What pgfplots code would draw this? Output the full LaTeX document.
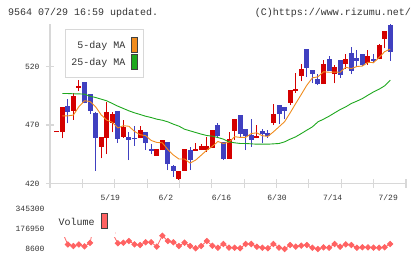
\documentclass[border=0pt]{standalone}
\usepackage{fontspec}
\setmainfont{Liberation Mono}
\usepackage{pgfplots}
\usepackage{pgfplotstable}
\pgfplotsset{compat=1.18}

\definecolor{upred}{HTML}{D40000}
\definecolor{dnblue}{HTML}{4040C0}
\definecolor{ma5}{HTML}{F08C1E}
\definecolor{ma25}{HTML}{1EA81E}
\definecolor{volred}{HTML}{FF6262}
\definecolor{axgray}{HTML}{D8D8D8}
\definecolor{txt}{HTML}{333333}
\definecolor{swbd}{HTML}{404040}

% daily candles: index, open, high, low, close
\pgfplotstableread{
i  o     h     l     c
0  464.0 464.8 464.0 464.8
1  464.4 485.0 458.5 485.0
3  482.1 497.4 474.7 494.6
4  501.5 508.3 498.9 503.2
8  451.3 459.9 441.4 459.9
9  459.0 489.8 445.1 480.7
10 472.1 481.0 463.6 479.8
12 459.9 474.7 459.3 468.4
15 458.5 469.0 458.5 465.6
18 443.6 449.3 443.6 449.3
19 448.5 457.6 448.5 457.0
22 423.7 430.8 423.4 430.8
23 430.8 449.9 430.8 449.3
25 447.9 455.0 447.9 449.3
26 448.5 453.6 448.5 451.9
27 448.5 459.9 447.1 451.9
28 450.5 465.6 450.5 465.6
31 441.1 463.6 441.1 457.9
32 464.7 475.0 457.0 475.0
36 459.0 469.9 458.5 460.5
39 471.9 487.8 469.9 479.8
42 488.9 500.3 487.0 500.3
43 498.9 514.6 497.5 500.6
44 512.0 522.0 507.2 518.3
48 504.9 525.4 504.9 522.0
50 513.4 521.1 505.5 519.4
52 522.0 530.5 518.3 526.2
56 523.1 534.0 521.7 528.8
58 526.0 539.6 526.0 538.2
59 543.4 550.2 535.4 550.2
}\upcandles

\pgfplotstableread{
i  o     h     l     c
2  486.1 492.1 471.3 481.3
5  506.9 506.9 488.4 489.2
6  496.4 496.4 479.8 482.1
7  480.4 481.0 430.8 459.0
11 482.1 482.1 454.8 458.2
13 459.9 464.2 439.9 457.6
14 459.3 469.0 452.2 458.5
16 463.9 463.9 448.5 454.2
17 449.6 453.6 445.1 447.9
20 455.3 455.3 431.4 436.5
21 434.8 436.2 425.7 430.8
24 448.5 450.8 431.4 439.9
29 469.9 472.1 459.9 460.7
30 455.3 455.3 440.0 440.8
33 478.4 478.4 459.9 462.7
34 466.4 466.4 448.5 460.5
35 461.3 475.0 451.3 457.6
37 464.7 466.2 454.8 462.5
38 463.0 465.6 459.0 460.5
40 487.0 487.0 470.7 479.3
41 485.0 485.0 475.0 482.1
45 534.8 534.8 511.1 518.9
46 517.4 517.4 505.5 513.4
47 509.2 514.0 504.0 504.9
49 526.8 528.8 516.2 516.2
51 525.4 525.4 510.3 513.1
53 531.7 536.8 513.4 516.3
54 527.4 534.0 519.7 524.8
55 530.5 530.5 520.3 521.7
57 526.2 530.5 522.6 524.8
60 555.3 558.0 524.8 532.5
}\downcandles

\begin{document}
\begin{tikzpicture}

\node[anchor=west, inner sep=0pt, text=txt, font=\fontsize{10bp}{12bp}\selectfont] at (8bp,246bp) {9564 07/29 16:59 updated.};
\node[anchor=east, inner sep=0pt, text=txt, font=\fontsize{10bp}{12bp}\selectfont] at (411bp,246bp) {(C)https://www.rizumu.net/};

% price panel
\begin{scope}[shift={(50bp,75.5bp)}]
\begin{axis}[
  at={(0pt,0pt)}, anchor=south west, scale only axis,
  width=356bp, height=159.1bp,
  xmin=-1.205, xmax=62.84, ymin=420, ymax=556,
  separate axis lines,
  axis x line*=bottom, axis y line*=left,
  axis line style={-, draw=axgray, line width=1.1bp},
  tick style={draw=axgray, line width=1.1bp},
  tick align=center, major tick length=8bp,
  xtick={-1.205,4.617,10.44,16.26,22.09,27.91,33.73,39.56,45.38,51.20,57.02,62.84},
  xticklabel=\empty,
  extra x ticks={10,20,30,40,50,60},
  extra x tick labels={5/19,6/2,6/16,6/30,7/14,7/29},
  extra x tick style={major tick length=0pt, tick style={draw=none},
    xticklabel style={xshift=-2bp, yshift=-8bp}},
  ytick={420,470,520},
  ticklabel style={font=\fontsize{8bp}{9bp}\selectfont, text=txt},
  yticklabel style={xshift=-3bp},
  /pgf/number format/assume math mode=true,
]
% wicks
\addplot[draw=none, mark=none, error bars/.cd, y dir=plus, y explicit, error mark=none,
  error bar style={draw=upred, line width=1bp}]
  table[x=i, y=l, y error expr=\thisrow{h}-\thisrow{l}] {\upcandles};
\addplot[draw=none, mark=none, error bars/.cd, y dir=plus, y explicit, error mark=none,
  error bar style={draw=dnblue, line width=1bp}]
  table[x=i, y=l, y error expr=\thisrow{h}-\thisrow{l}] {\downcandles};
% bodies
\addplot[draw=none, mark=none, error bars/.cd, y dir=plus, y explicit, error mark=none,
  error bar style={draw=upred, line width=5bp}]
  table[x=i, y=o, y error expr=\thisrow{c}-\thisrow{o}] {\upcandles};
\addplot[draw=none, mark=none, error bars/.cd, y dir=plus, y explicit, error mark=none,
  error bar style={draw=dnblue, line width=5bp}]
  table[x=i, y=c, y error expr=\thisrow{o}-\thisrow{c}] {\downcandles};
% 5-day moving average
\addplot[ma5, line width=0.9bp, mark=none] coordinates {
(1,477.8)(2,477.8)(3,478.5)(4,485.7)(5,490.7)(6,490.1)(7,485.6)(8,478.7)(9,474.2)(10,472.3)
(11,467.5)(12,469.4)(13,468.9)(14,464.5)(15,461.7)(16,460.9)(17,456.8)(18,455.1)(19,454.8)(20,449.0)
(21,444.3)(22,440.9)(23,440.9)(24,437.5)(25,440.0)(26,444.2)(27,448.5)(28,451.7)(29,455.9)(30,454.2)
(31,455.4)(32,460.0)(33,459.4)(34,459.4)(35,462.7)(36,463.3)(37,460.8)(38,460.3)(39,464.2)(40,468.5)
(41,472.8)(42,480.4)(43,488.4)(44,496.1)(45,504.0)(46,510.3)(47,511.2)(48,515.5)(49,515.1)(50,515.2)
(51,515.1)(52,519.4)(53,518.2)(54,520.0)(55,520.4)(56,523.6)(57,523.3)(58,527.7)(59,532.7)(60,534.9)
};
% 25-day moving average
\addplot[ma25, line width=0.9bp, mark=none] coordinates {
(1,496.9)(2,496.9)(3,496.7)(4,496.6)(5,496.4)(6,494.6)(7,493.5)(8,492.1)(9,490.7)(10,488.4)
(11,486.1)(12,484.1)(13,482.1)(14,480.4)(15,479.0)(16,477.5)(17,476.4)(18,475.0)(19,474.1)(20,472.7)
(21,470.7)(22,469.0)(23,466.4)(24,465.0)(25,463.6)(26,462.2)(27,461.0)(28,460.5)(29,459.3)(30,457.9)
(31,455.6)(32,454.8)(33,454.2)(34,454.2)(35,453.9)(36,453.6)(37,453.6)(38,453.6)(39,453.9)(40,454.2)
(41,455.6)(42,457.9)(43,459.9)(44,462.7)(45,465.6)(46,468.4)(47,472.7)(48,475.0)(49,477.5)(50,480.4)
(51,483.2)(52,485.5)(53,488.4)(54,490.4)(55,492.6)(56,495.5)(57,498.3)(58,500.6)(59,503.5)(60,508.3)
};
\end{axis}
\end{scope}

% legend of the price panel
\draw[axgray, line width=1bp, fill=white] (65bp,181.7bp) rectangle (143.3bp,229bp);
\node[anchor=east, inner sep=0pt, text=txt, font=\fontsize{10bp}{12bp}\selectfont] at (125.5bp,213bp) {5-day MA};
\node[anchor=east, inner sep=0pt, text=txt, font=\fontsize{10bp}{12bp}\selectfont] at (125.5bp,195.7bp) {25-day MA};
\draw[swbd, line width=0.8bp, fill=ma5] (131.7bp,206.7bp) rectangle (137.3bp,221.7bp);
\draw[swbd, line width=0.8bp, fill=ma25] (131.7bp,189.7bp) rectangle (137.3bp,204.3bp);

% volume panel
\begin{scope}[shift={(50bp,10bp)}]
\begin{axis}[
  at={(0pt,0pt)}, anchor=south west, scale only axis,
  width=356bp, height=39.7bp,
  xmin=-1.205, xmax=62.84, ymin=8600, ymax=345300,
  hide x axis,
  axis y line*=left,
  axis line style={draw=none},
  major tick length=0pt, tick style={draw=none},
  ytick={8600,176950,345300},
  scaled y ticks=false,
  yticklabel style={font=\fontsize{8bp}{9bp}\selectfont, text=txt, xshift=-2bp},
  /pgf/number format/.cd, fixed, 1000 sep={}, assume math mode=true,
]
\addplot[volred, line width=0.8bp, mark=square*, mark size=1.9bp,
  mark options={rotate=45, fill=volred, draw=volred}] coordinates {
(1,152800)(2,46800)(3,34000)(4,46800)(5,31500)(6,60300)(7,285000)(8,230000)(9,180000)(10,144300)
(11,56900)(12,62000)(13,76400)(14,48500)(15,42500)(16,65400)(17,65400)(18,28100)(19,121400)(20,76400)
(21,65400)(22,34000)(23,62000)(24,34000)(25,14500)(26,34000)(27,76400)(28,36600)(29,19600)(30,51000)
(31,19600)(32,19600)(33,14500)(34,51000)(35,51000)(36,28100)(37,19600)(38,14500)(39,51000)(40,19600)
(41,8600)(42,42500)(43,28100)(44,36600)(45,42500)(46,19600)(47,8600)(48,23000)(49,19600)(50,51000)
(51,28100)(52,48500)(53,42500)(54,19600)(55,23000)(56,23000)(57,19600)(58,19600)(59,23000)(60,51000)
};
\end{axis}
\end{scope}

% legend of the volume panel
\fill[white] (53bp,22bp) rectangle (115bp,54bp);
\node[anchor=west, inner sep=0pt, text=txt, font=\fontsize{10bp}{12bp}\selectfont] at (58.5bp,37.3bp) {Volume};
\draw[swbd, line width=0.8bp, fill=volred] (101.3bp,30.7bp) rectangle (107.7bp,45.7bp);

\pgfresetboundingbox
\path[use as bounding box] (0bp,0bp) rectangle (420bp,259bp);
\end{tikzpicture}
\end{document}
